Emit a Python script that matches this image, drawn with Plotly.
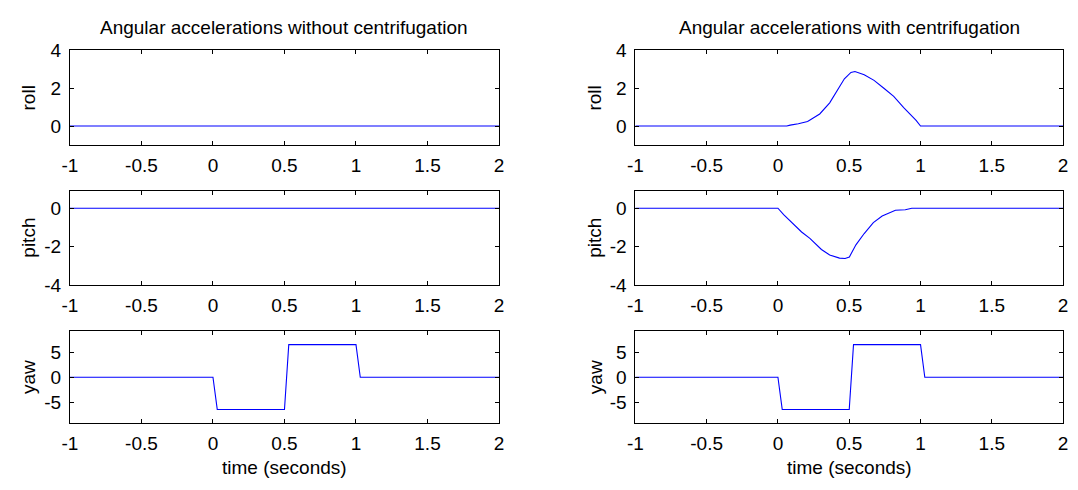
import plotly.graph_objects as go

# ---------------- data ----------------
t_flat = [-1.0, 2.0]
roll_without = [0.0, 0.0]
pitch_without = [0.0, 0.0]

t_yaw = [-1.0, 0.0, 0.03, 0.5, 0.53, 1.0, 1.03, 2.0]
yaw_vals = [0.0, 0.0, -6.4, -6.4, 6.5, 6.5, 0.0, 0.0]

t_roll_c = [-1.0, 0.062, 0.086, 0.143, 0.208, 0.293, 0.363, 0.420, 0.466, 0.512,
            0.540, 0.605, 0.674, 0.743, 0.812, 0.882, 0.969, 1.0, 2.0]
roll_c = [0.0, 0.0, 0.05, 0.12, 0.24, 0.64, 1.23, 1.91, 2.50, 2.84,
          2.89, 2.72, 2.42, 2.0, 1.57, 0.98, 0.30, 0.0, 0.0]

t_pitch_c = [-1.0, 0.0, 0.04, 0.109, 0.166, 0.224, 0.305, 0.363, 0.432, 0.471,
             0.501, 0.547, 0.605, 0.669, 0.731, 0.824, 0.893, 0.939, 2.0]
pitch_c = [0.0, 0.0, -0.33, -0.83, -1.24, -1.57, -2.15, -2.44, -2.60, -2.62,
           -2.54, -1.91, -1.32, -0.75, -0.41, -0.11, -0.08, 0.0, 0.0]

x_tickvals = [-1, -0.5, 0, 0.5, 1, 1.5, 2]
x_ticktext = ["-1", "-0.5", "0", "0.5", "1", "1.5", "2"]
roll_ticks = [0, 2, 4]
roll_ticktext = ["0", "2", "4"]
pitch_ticks = [-4, -2, 0]
pitch_ticktext = ["-4", "-2", "0"]
yaw_ticks = [-5, 0, 5]
yaw_ticktext = ["-5", "0", "5"]

titles = ["Angular accelerations without centrifugation",
          "Angular accelerations with centrifugation"]
row_labels = ["roll", "pitch", "yaw"]
xlabel = "time (seconds)"

# ---------------- layout ----------------
W, H = 1078, 490
FONT = "Liberation Sans, Arial, sans-serif"
FS = 19
col_dom = [[62.7 / W, 497 / W], [635 / W, 1068 / W]]
row_px = [(42.3, 141), (189, 287.3), (335.5, 432)]
row_dom = [[1 - b / H, 1 - t / H] for t, b in row_px]
y_ranges = [[-1, 4], [-4, 0.9], [-9.2, 9.2]]
y_ticks = [(roll_ticks, roll_ticktext), (pitch_ticks, pitch_ticktext), (yaw_ticks, yaw_ticktext)]

series = {
    (0, 0): (t_flat, roll_without),
    (1, 0): (t_flat, pitch_without),
    (2, 0): (t_yaw, yaw_vals),
    (0, 1): (t_roll_c, roll_c),
    (1, 1): (t_pitch_c, pitch_c),
    (2, 1): (t_yaw, yaw_vals),
}

fig = go.Figure()
layout = dict(
    width=W, height=H,
    margin=dict(l=0, r=0, t=0, b=0),
    paper_bgcolor="white", plot_bgcolor="white",
    showlegend=False,
    font=dict(family=FONT, size=FS, color="black"),
)

idx = 0
for c in range(2):
    for r in range(3):
        idx += 1
        sfx = "" if idx == 1 else str(idx)
        xs, ys = series[(r, c)]
        fig.add_trace(go.Scatter(x=xs, y=ys, mode="lines",
                                 line=dict(color="#0000ff", width=1.1),
                                 xaxis="x" + sfx, yaxis="y" + sfx,
                                 hoverinfo="skip"))
        axcommon = dict(showline=True, linecolor="black", linewidth=1, mirror="ticks",
                        ticks="inside", ticklen=4, tickcolor="black", tickwidth=1,
                        showgrid=False, zeroline=False,
                        tickfont=dict(family=FONT, size=FS, color="black"))
        layout["xaxis" + sfx] = dict(axcommon, domain=col_dom[c], range=[-1, 2],
                                     anchor="y" + sfx, tickvals=x_tickvals,
                                     ticktext=x_ticktext, ticklabelstandoff=3)
        tv, tt = y_ticks[r]
        layout["yaxis" + sfx] = dict(axcommon, domain=row_dom[r], range=y_ranges[r],
                                     anchor="x" + sfx, tickvals=tv, ticktext=tt,
                                     ticklabelstandoff=4)

annotations = []
for c in range(2):
    xc = (col_dom[c][0] + col_dom[c][1]) / 2
    annotations.append(dict(text=titles[c], x=xc, y=1 - 18 / H, xref="paper", yref="paper",
                            showarrow=False, xanchor="center", yanchor="middle",
                            font=dict(family=FONT, size=FS, color="black")))
    annotations.append(dict(text=xlabel, x=xc, y=0, xref="paper", yref="paper",
                            showarrow=False, xanchor="center", yanchor="bottom",
                            borderpad=0,
                            font=dict(family=FONT, size=FS, color="black")))
    lx = [21, 594][c]
    for r in range(3):
        yc = (row_dom[r][0] + row_dom[r][1]) / 2
        annotations.append(dict(text=row_labels[r], x=lx / W, y=yc, xref="paper", yref="paper",
                                showarrow=False, xanchor="center", yanchor="middle",
                                textangle=-90,
                                font=dict(family=FONT, size=FS, color="black")))
layout["annotations"] = annotations
fig.update_layout(**layout)
fig.write_html("out.html")
